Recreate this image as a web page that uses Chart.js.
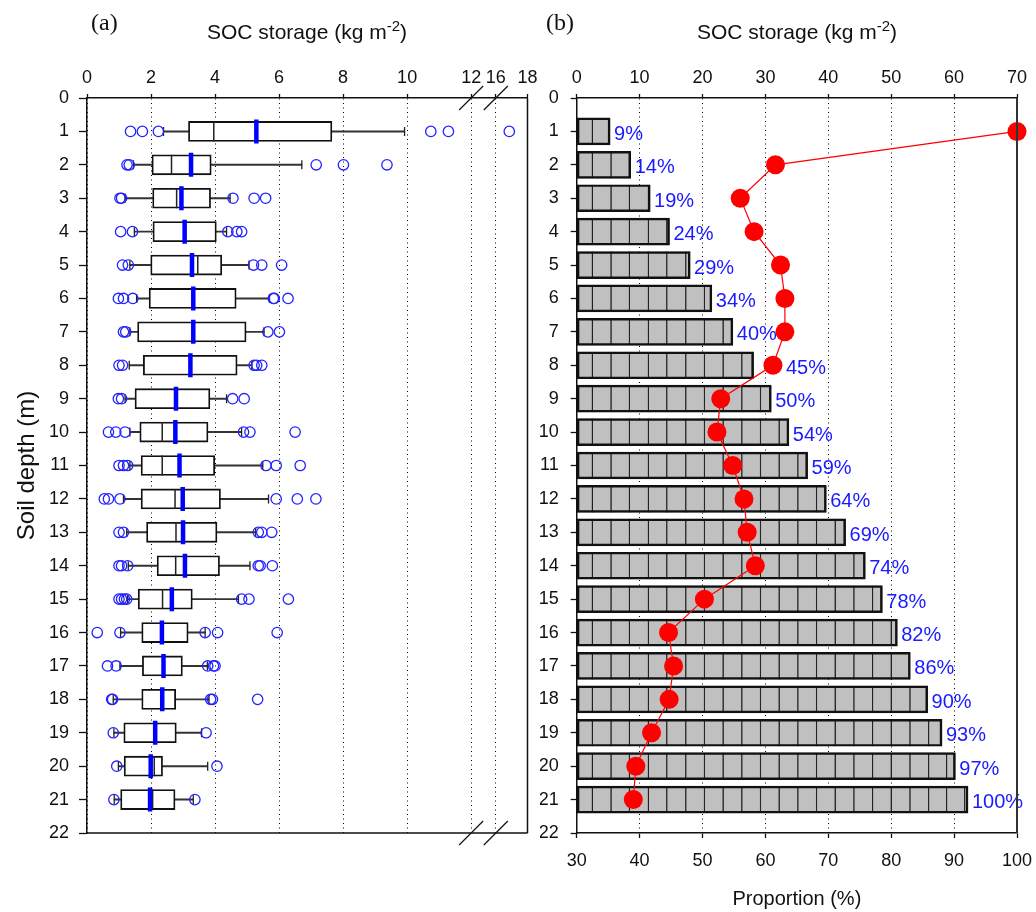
<!DOCTYPE html>
<html>
<head>
<meta charset="utf-8">
<script src="https://cdn.jsdelivr.net/npm/chart.js@4.4.1/dist/chart.umd.min.js"></script>
<style>
  body { margin: 0; background: #fff; width: 1036px; height: 912px; position: relative; overflow: hidden;
         font-family: "Liberation Sans", Arial, sans-serif; color: #111; }
  canvas { position: absolute; top: 0; }
  .panel { position: absolute; top: 10px; font: 24px/24px "Liberation Serif", serif; z-index: 2; }
  .ttl { position: absolute; top: 21px; font-size: 21px; line-height: 21px; transform: translateX(-50%);
         white-space: nowrap; z-index: 2; }
  .ttl sup { font-size: 15px; line-height: 0; vertical-align: 8px; }
</style>
</head>
<body>
<div class="panel" style="left:91px">(a)</div>
<div class="panel" style="left:546px">(b)</div>
<div class="ttl" style="left:307px">SOC storage (kg m<sup>-2</sup>)</div>
<div class="ttl" style="left:797px">SOC storage (kg m<sup>-2</sup>)</div>
<canvas id="chartA" width="544" height="912" style="left:0"></canvas>
<canvas id="chartB" width="496" height="912" style="left:540px"></canvas>
<script>
// soil depth of each layer (m)
const depths = [1, 2, 3, 4, 5, 6, 7, 8, 9, 10, 11, 12, 13, 14, 15, 16, 17, 18, 19, 20, 21];

// (a) SOC storage box plots, kg m-2
const whiskerLow  = [2.39, 1.45, 1.19, 1.48, 1.34, 1.55, 1.34, 1.32, 1.19, 1.34, 1.34, 1.14, 1.24, 1.29, 1.27, 1.05, 1.03, 0.82, 0.84, 0.98, 0.85];
const q1          = [3.17, 2.03, 2.05, 2.06, 1.99, 1.94, 1.58, 1.76, 1.50, 1.65, 1.69, 1.69, 1.86, 2.19, 1.60, 1.71, 1.73, 1.71, 1.15, 1.16, 1.05];
const median      = [3.96, 2.64, 2.80, 3.05, 3.46, 3.32, 3.32, 3.23, 2.78, 2.35, 2.35, 2.75, 2.78, 2.77, 2.36, 2.34, 2.39, 2.35, 2.13, 2.10, 2.05];
const q3          = [7.65, 3.88, 3.86, 4.04, 4.21, 4.66, 4.97, 4.69, 3.84, 3.78, 3.99, 4.17, 4.06, 4.14, 3.29, 3.16, 2.98, 2.77, 2.79, 2.36, 2.75];
const whiskerHigh = [9.92, 6.71, 4.47, 4.36, 5.06, 5.70, 5.53, 5.15, 4.36, 4.83, 5.49, 5.67, 5.27, 5.09, 4.73, 3.69, 3.76, 3.81, 3.58, 3.77, 3.32];
const meanSoc     = [5.29, 3.25, 2.95, 3.05, 3.28, 3.32, 3.32, 3.23, 2.78, 2.76, 2.89, 2.99, 3.00, 3.06, 2.65, 2.34, 2.39, 2.35, 2.13, 1.99, 1.97];
const outliers = [
  [1.36, 1.73, 2.23, 10.74, 11.29, 16.85],
  [1.25, 1.32, 7.16, 8.01, 9.37],
  [1.03, 1.08, 4.56, 5.22, 5.58],
  [1.05, 1.42, 4.40, 4.68, 4.83],
  [1.11, 1.29, 5.20, 5.46, 6.08],
  [0.98, 1.14, 1.43, 5.82, 5.85, 6.28],
  [1.14, 1.21, 5.65, 6.01],
  [1.00, 1.11, 5.22, 5.30, 5.46],
  [0.98, 1.08, 4.55, 4.91],
  [0.67, 0.90, 1.19, 4.89, 5.09, 6.50],
  [1.00, 1.14, 1.27, 5.59, 5.91, 6.66],
  [0.54, 0.67, 1.03, 5.91, 6.57, 7.15],
  [1.00, 1.14, 5.35, 5.46, 5.77],
  [1.00, 1.08, 1.27, 5.35, 5.41, 5.79],
  [1.00, 1.08, 1.17, 1.24, 4.83, 5.06, 6.29],
  [0.32, 1.03, 3.69, 4.08, 5.94],
  [0.64, 0.91, 3.77, 3.95, 4.00],
  [0.77, 0.80, 3.86, 3.92, 5.33],
  [0.82, 3.72],
  [0.93, 4.06],
  [0.84, 3.37]
];
const socTicksA = [0, 2, 4, 6, 8, 10, 12, 16, 18];

// (b) cumulative SOC storage, kg m-2, and its share of the 0-21 m total
const cumSoc = [5.30, 8.59, 11.67, 14.74, 18.03, 21.48, 24.82, 28.11, 30.92, 33.73, 36.70, 39.67, 42.74, 45.87, 48.58, 50.96, 53.03, 55.79, 58.07, 60.19, 62.20];
const pctLabels = [9, 14, 19, 24, 29, 34, 40, 45, 50, 54, 59, 64, 69, 74, 78, 82, 86, 90, 93, 97, 100];
// hatch divisions inside the cumulative bars
const segEdges = [0, 2.49, 5.46, 8.38, 11.40, 14.32, 17.34, 20.31, 23.28, 26.25, 29.22, 32.19, 35.16, 38.13, 41.10, 44.07, 47.04, 50.01, 52.98, 55.95, 58.81, 61.67];
// proportion (%) — red line
const proportion = [100, 61.6, 56.0, 58.2, 62.4, 63.1, 63.1, 61.2, 52.9, 52.3, 54.8, 56.6, 57.1, 58.4, 50.3, 44.6, 45.4, 44.7, 41.9, 39.4, 39.0];

const FONT = '"Liberation Sans", Arial, sans-serif';
Chart.defaults.font.family = FONT;
Chart.defaults.color = '#111';

// broken axis 12 | 16 in panel (a)
const BREAK_LO = 12, BREAK_HI = 16, BREAK_GAP = 0.77, HI_SCALE = 0.495;
function brk(v) {
  return v <= BREAK_LO ? v : BREAK_LO + BREAK_GAP + (v - BREAK_HI) * HI_SCALE;
}
const pts = arr => arr.map((v, i) => ({x: brk(v), y: depths[i]}));

// no label overhang: layout padding alone decides the plot edges
function fixX(height) {
  return s => { s.height = height; s.paddingLeft = 0; s.paddingRight = 0; };
}

const depthAxis = (width, tickLen, pad, withTitle) => ({
  type: 'linear', reverse: true, min: 0, max: 22, offset: false,
  ticks: {stepSize: 1, autoSkip: false, padding: pad, font: {size: 18}},
  grid: {drawOnChartArea: false, offset: false, tickLength: tickLen, tickColor: '#111', tickWidth: 1.3},
  border: {color: '#111', width: 1.5},
  title: {display: withTitle, text: 'Soil depth (m)', font: {size: 24}, padding: {top: 13, bottom: 0}},
  afterFit: s => { s.width = width; s.paddingTop = 0; s.paddingBottom = 0; }
});

const frameA = {
  id: 'frameA',
  afterDraw(chart) {
    const {ctx, chartArea: {left, right, top, bottom}, scales: {x}} = chart;
    ctx.save();
    ctx.strokeStyle = '#111';
    ctx.lineWidth = 1.5;
    ctx.beginPath();
    ctx.moveTo(left, bottom); ctx.lineTo(right, bottom);
    ctx.moveTo(right, top); ctx.lineTo(right, bottom);
    ctx.stroke();
    ctx.lineWidth = 1.2;
    [BREAK_LO, BREAK_HI].forEach(v => {
      const px = x.getPixelForValue(brk(v));
      [top, bottom].forEach(py => {
        ctx.beginPath();
        ctx.moveTo(px - 12, py + 12);
        ctx.lineTo(px + 12, py - 12);
        ctx.stroke();
      });
    });
    ctx.restore();
  }
};

new Chart(document.getElementById('chartA'), {
  type: 'bar',
  data: {
    datasets: [
      {type: 'scatter', label: 'outliers', order: 0, clip: false,
       data: outliers.flatMap((list, i) => list.map(v => ({x: brk(v), y: depths[i]}))),
       pointStyle: 'circle', pointRadius: 5.2, pointBorderColor: '#2323ff', pointBorderWidth: 1.3,
       pointBackgroundColor: 'rgba(0,0,0,0)'},
      {type: 'scatter', label: 'mean', order: 1, data: pts(meanSoc),
       pointStyle: 'line', pointRotation: 90, pointRadius: 12, pointBorderWidth: 4.5, pointBorderColor: '#0000ff'},
      {type: 'scatter', label: 'median', order: 2, data: pts(median),
       pointStyle: 'line', pointRotation: 90, pointRadius: 10, pointBorderWidth: 1.5, pointBorderColor: '#222'},
      {type: 'scatter', label: 'caps', order: 3, data: pts(whiskerLow).concat(pts(whiskerHigh)),
       pointStyle: 'line', pointRotation: 90, pointRadius: 4.5, pointBorderWidth: 1.3, pointBorderColor: '#222'},
      {type: 'bar', label: 'box', order: 4, grouped: false, barThickness: 20,
       data: depths.map((d, i) => ({x: [q1[i], q3[i]], y: d})),
       backgroundColor: '#fff', borderColor: '#111', borderWidth: 1.8, borderSkipped: false},
      {type: 'bar', label: 'whisker', order: 5, grouped: false, barThickness: 1.3,
       data: depths.map((d, i) => ({x: [whiskerLow[i], whiskerHigh[i]], y: d})),
       backgroundColor: '#333', borderWidth: 0}
    ]
  },
  options: {
    indexAxis: 'y',
    responsive: false,
    animation: false,
    events: [],
    layout: {padding: {left: 0, right: 9, top: 0, bottom: 79}},
    plugins: {legend: {display: false}, tooltip: {enabled: false}},
    scales: {
      x: {
        type: 'linear', position: 'top', min: 0, max: brk(18), offset: false,
        afterBuildTicks: s => { s.ticks = socTicksA.map(v => ({value: brk(v)})); },
        afterFit: fixX(98),
        ticks: {autoSkip: false, maxRotation: 0, padding: 5, font: {size: 18},
                callback: (v, i) => socTicksA[i]},
        grid: {color: '#000', lineWidth: 1, offset: false, tickLength: 4, tickColor: '#111', tickWidth: 1.3},
        border: {color: '#111', width: 1.5, dash: [1, 3.5]}
      },
      y: depthAxis(87, 8, 10, true)
    }
  },
  plugins: [frameA]
});

// panel (b)
const segmentSets = segEdges.map((s, k) => ({
  type: 'bar', label: 'seg' + k, order: 2, grouped: false, barThickness: 27, xAxisID: 'x',
  data: depths.filter((d, i) => s < cumSoc[i]).map(d => {
    const i = depths.indexOf(d);
    const e = k + 1 < segEdges.length ? Math.min(segEdges[k + 1], cumSoc[i]) : cumSoc[i];
    return {x: [s, e], y: d};
  }),
  backgroundColor: '#c0c0c0', borderColor: '#111',
  borderWidth: {left: 0.9, right: 0.9, top: 0, bottom: 0}, borderSkipped: false
}));

const pctPlugin = {
  id: 'pct',
  afterDatasetDraw(chart, args) {
    if (args.meta.label !== 'outline') return;
    const {ctx, scales: {x, x2, y}} = chart;
    ctx.save();
    ctx.font = '20px ' + FONT;
    ctx.fillStyle = '#1a1aff';
    ctx.textBaseline = 'middle';
    depths.forEach((d, i) => {
      const text = pctLabels[i] + '%';
      const w = ctx.measureText(text).width;
      let px = x.getPixelForValue(cumSoc[i]) + 4;
      const dot = x2.getPixelForValue(proportion[i]);
      // move the label past the red dot only when the dot would hide its start
      if (dot + 9.5 > px && dot < px + w / 2) px = dot + 13;
      ctx.fillText(text, px, y.getPixelForValue(d) + 3);
    });
    ctx.restore();
  },
  afterDraw(chart) {
    const {ctx, chartArea: {right, top, bottom}} = chart;
    ctx.save();
    ctx.strokeStyle = '#333';
    ctx.lineWidth = 2;
    ctx.beginPath();
    ctx.moveTo(right, top); ctx.lineTo(right, bottom);
    ctx.stroke();
    ctx.restore();
  }
};

new Chart(document.getElementById('chartB'), {
  type: 'bar',
  data: {
    datasets: [
      {type: 'scatter', label: 'proportion', order: 0, xAxisID: 'x2', clip: false, showLine: true,
       data: proportion.map((v, i) => ({x: v, y: depths[i]})),
       borderColor: '#ff0000', borderWidth: 1.2,
       pointRadius: 9.5, pointBackgroundColor: '#ff0000', pointBorderWidth: 0},
      {type: 'bar', label: 'outline', order: 1, grouped: false, barThickness: 27, xAxisID: 'x',
       data: depths.map((d, i) => ({x: [0, cumSoc[i]], y: d})),
       backgroundColor: 'rgba(0,0,0,0)', borderColor: '#111', borderWidth: 1.8, borderSkipped: false}
    ].concat(segmentSets)
  },
  options: {
    indexAxis: 'y',
    responsive: false,
    animation: false,
    events: [],
    layout: {padding: {left: 0, right: 19, top: 0, bottom: 0}},
    plugins: {legend: {display: false}, tooltip: {enabled: false}},
    scales: {
      x: {
        type: 'linear', position: 'top', min: 0, max: 70, offset: false,
        afterFit: fixX(98),
        ticks: {stepSize: 10, autoSkip: false, maxRotation: 0, padding: 5, font: {size: 18}},
        grid: {color: '#000', lineWidth: 1, offset: false, tickLength: 4, tickColor: '#111', tickWidth: 1.3},
        border: {color: '#111', width: 1.5, dash: [1, 3.5]}
      },
      x2: {
        type: 'linear', position: 'bottom', min: 30, max: 100, offset: false,
        afterFit: fixX(79),
        ticks: {stepSize: 10, autoSkip: false, maxRotation: 0, padding: 12, font: {size: 18}},
        grid: {drawOnChartArea: false, offset: false, tickLength: 5, tickColor: '#111', tickWidth: 1.3},
        border: {color: '#111', width: 1.5},
        title: {display: true, text: 'Proportion (%)', font: {size: 20}, padding: {top: 0, bottom: 1}}
      },
      y: depthAxis(36.7, 6, 12, false)
    }
  },
  plugins: [pctPlugin]
});
</script>
</body>
</html>
